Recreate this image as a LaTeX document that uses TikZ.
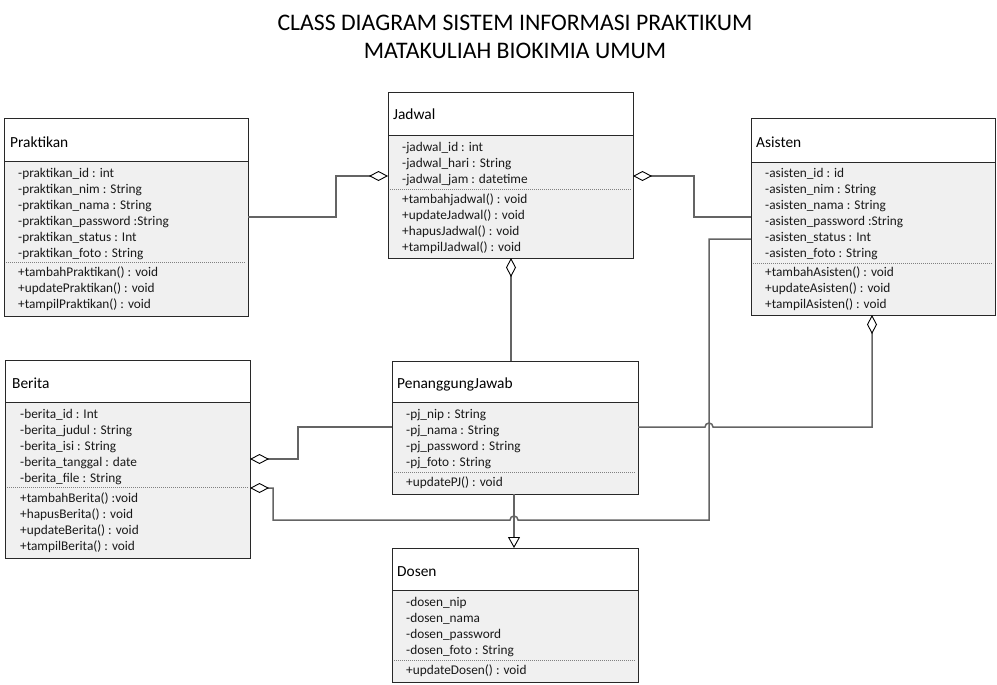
\documentclass[tikz,border=0pt]{standalone}
\usepackage{fontspec}
\setmainfont{Carlito}
\usetikzlibrary{arrows.meta,fit}
\definecolor{bodyfill}{RGB}{240,240,240}
\definecolor{connc}{RGB}{100,100,100}
\definecolor{framec}{RGB}{40,40,40}
\tikzset{
  boxframe/.style={draw=framec, line width=1pt, inner sep=0pt, outer sep=0pt},
  sepline/.style={draw=framec, line width=1pt},
  dotline/.style={draw=gray, line width=0.8pt, dash pattern=on 1pt off 1pt},
  ttl/.style={anchor=west, inner sep=0pt, yshift=-1.5pt, font=\fontsize{15.4}{18}\selectfont, text height=11pt, text depth=2pt},
  attr/.style={anchor=west, inner sep=0pt, yshift=-2pt, font=\fontsize{13.3}{16}\selectfont, text height=8pt, text depth=3pt, text=black!90},
  conn/.style={draw=connc, line width=1.5pt},
  agg/.tip={Diamond[length=19pt, width=10pt, fill=white, color=black, line width=0.9pt]},
  gen/.tip={Triangle[open, length=11pt, width=12pt, color=black, line width=0.9pt]},
  bigtitle/.style={inner sep=0pt, font=\fontsize{23.75}{28}\selectfont}
}
\newcommand\classbox[7]{%
  \fill[bodyfill] (#2,#6) rectangle (#4,#5);
  \draw[sepline] (#2,#6) -- (#4,#6);
  \draw[dotline] (#2+2,#7) -- (#4-2,#7);
  \node[boxframe, fit={(#2,#3) (#4,#5)}] (#1) {};
}
\begin{document}
\begin{tikzpicture}[x=1pt,y=-1pt]
\useasboundingbox (0,0) rectangle (997,685);

\node[bigtitle] (title1) at (515,23) {CLASS DIAGRAM SISTEM INFORMASI PRAKTIKUM};
\node[bigtitle] (title2) at (515,51) {MATAKULIAH BIOKIMIA UMUM};

% Praktikan
\classbox{prak}{4}{119}{248}{316}{161}{262.5}
\node[ttl] (prak-t) at (10,141) {Praktikan};
\foreach \t [count=\i from 0] in {-praktikan\_id : int,-praktikan\_nim : String,-praktikan\_nama : String,-praktikan\_password :String,-praktikan\_status : Int,-praktikan\_foto : String}
  \node[attr] (prak-a\i) at (18,173+16*\i) {\t};
\foreach \t [count=\i from 0] in {+tambahPraktikan() : void,+updatePraktikan() : void,+tampilPraktikan() : void}
  \node[attr] (prak-m\i) at (18,272+16*\i) {\t};

% Jadwal
\classbox{jad}{388}{93}{633}{258}{135}{189}
\node[ttl] (jad-t) at (393,114) {Jadwal};
\foreach \t [count=\i from 0] in {-jadwal\_id : int,-jadwal\_hari : String,-jadwal\_jam : datetime}
  \node[attr] (jad-a\i) at (402,147+16*\i) {\t};
\foreach \t [count=\i from 0] in {+tambahjadwal() : void,+updateJadwal() : void,+hapusJadwal() : void,+tampilJadwal() : void}
  \node[attr] (jad-m\i) at (402,199+16*\i) {\t};

% Asisten
\classbox{asis}{751}{119}{995}{315}{162}{263}
\node[ttl] (asis-t) at (756,141) {Asisten};
\foreach \t [count=\i from 0] in {-asisten\_id : id,-asisten\_nim : String,-asisten\_nama : String,-asisten\_password :String,-asisten\_status : Int,-asisten\_foto : String}
  \node[attr] (asis-a\i) at (765,173+16*\i) {\t};
\foreach \t [count=\i from 0] in {+tambahAsisten() : void,+updateAsisten() : void,+tampilAsisten() : void}
  \node[attr] (asis-m\i) at (765,272+16*\i) {\t};

% Berita
\classbox{ber}{5}{360}{250}{558}{402}{487.5}
\node[ttl] (ber-t) at (12,382) {Berita};
\foreach \t [count=\i from 0] in {-berita\_id : Int,-berita\_judul : String,-berita\_isi : String,-berita\_tanggal : date,-berita\_file : String}
  \node[attr] (ber-a\i) at (20,414+16*\i) {\t};
\foreach \t [count=\i from 0] in {+tambahBerita() :void,+hapusBerita() : void,+updateBerita() : void,+tampilBerita() : void}
  \node[attr] (ber-m\i) at (20,498+16*\i) {\t};

% PenanggungJawab
\classbox{pj}{392}{361}{638}{494}{402}{472}
\node[ttl] (pj-t) at (397,382) {PenanggungJawab};
\foreach \t [count=\i from 0] in {-pj\_nip : String,-pj\_nama : String,-pj\_password : String,-pj\_foto : String}
  \node[attr] (pj-a\i) at (406,414+16*\i) {\t};
\node[attr] (pj-m0) at (406,482) {+updatePJ() : void};

% Dosen
\classbox{dos}{392}{548}{638}{682}{590}{660}
\node[ttl] (dos-t) at (397,570) {Dosen};
\foreach \t [count=\i from 0] in {-dosen\_nip,-dosen\_nama,-dosen\_password,-dosen\_foto : String}
  \node[attr] (dos-a\i) at (406,602+16*\i) {\t};
\node[attr] (dos-m0) at (406,670) {+updateDosen() : void};

% connectors
\draw[conn, {agg}-] (jad.west |- 0,176) -- (336,176) |- (prak.east |- 0,217);
\draw[conn, {agg}-] (jad.east |- 0,176) -- (694,176) |- (asis.west |- 0,217);
\draw[conn, {agg}-] (jad.south -| 511,0) -- (pj.north -| 511,0);
\draw[conn, {agg}-] (asis.south -| 872,0) -- (872,427) -- (713,427) arc(360:180:4) -- (pj.east |- 0,427);
\draw[conn, {agg}-] (ber.east |- 0,459) -- (298,459) |- (pj.west |- 0,427);
\draw[conn, {agg}-] (ber.east |- 0,488) -- (273,488) -- (273,520) -- (510,520) arc(180:360:4) -- (709,520) -- (709,239) -- (asis.west |- 0,239);
\draw[conn, -{gen}] (pj.south -| 514,0) -- (dos.north -| 514,0);
\end{tikzpicture}
\end{document}
